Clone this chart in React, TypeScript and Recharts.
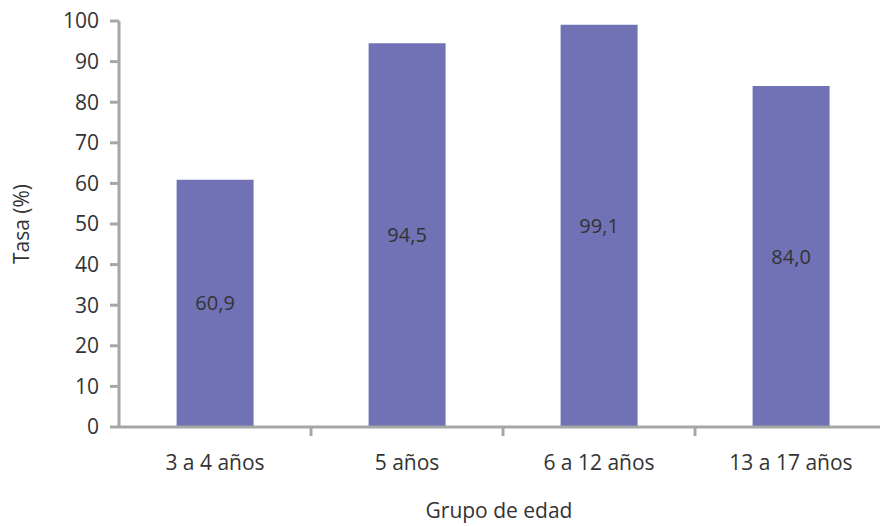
import { Bar, BarChart, LabelList, XAxis, YAxis } from "recharts";

const categories = ["3 a 4 años", "5 años", "6 a 12 años", "13 a 17 años"];
const tasa = [60.9, 94.5, 99.1, 84.0];
const yTicks = [0, 10, 20, 30, 40, 50, 60, 70, 80, 90, 100];

const data = categories.map((grupo, i) => ({ grupo, tasa: tasa[i] }));

const FONT = "'Open Sans', sans-serif";
const AXIS = "#a6a6a6";
const TEXT = "#333333";

// Excel-style category ticks: line at the band's left edge, label at its centre
function CategoryTick(props: any) {
  const { x, y, payload, index } = props;
  const edge = x - (payload.offset ?? 0);
  return (
    <g>
      {index > 0 && <line x1={edge} y1={y - 8} x2={edge} y2={y + 1} stroke={AXIS} strokeWidth={3} />}
      <text x={x} y={y + 35} textAnchor="middle" fill={TEXT} fontSize={21} fontFamily={FONT}>
        {payload.value}
      </text>
    </g>
  );
}

export default function App() {
  return (
    <div style={{ width: 880, height: 526, overflow: "hidden" }}>
      <style>{"body{margin:0}"}</style>
      <BarChart
        width={887}
        height={526}
        data={data}
        margin={{ top: 21, right: 0, left: 0, bottom: 0 }}
        barCategoryGap="30%"
      >
        <XAxis
          dataKey="grupo"
          stroke={AXIS}
          strokeWidth={3}
          tickLine={false}
          tick={<CategoryTick />}
          height={99}
          interval={0}
          label={{ value: "Grupo de edad", position: "insideBottom", offset: 8, dx: -4, fill: TEXT, fontSize: 21, fontFamily: FONT }}
        />
        <YAxis
          domain={[0, 100]}
          ticks={yTicks}
          width={119}
          stroke={AXIS}
          strokeWidth={3}
          tickSize={9}
          tickMargin={11}
          tick={{ fill: TEXT, fontSize: 21, fontFamily: FONT }}
          label={{ value: "Tasa (%)", angle: -90, position: "insideLeft", offset: 22, fill: TEXT, fontSize: 21, fontFamily: FONT, style: { textAnchor: "middle" } }}
        />
        <Bar dataKey="tasa" fill="#7072b5" isAnimationActive={false}>
          <LabelList
            dataKey="tasa"
            position="center"
            formatter={(v: any) => Number(v).toFixed(1).replace(".", ",")}
            fill={TEXT}
            fontSize={20}
            fontFamily={FONT}
          />
        </Bar>
      </BarChart>
    </div>
  );
}
